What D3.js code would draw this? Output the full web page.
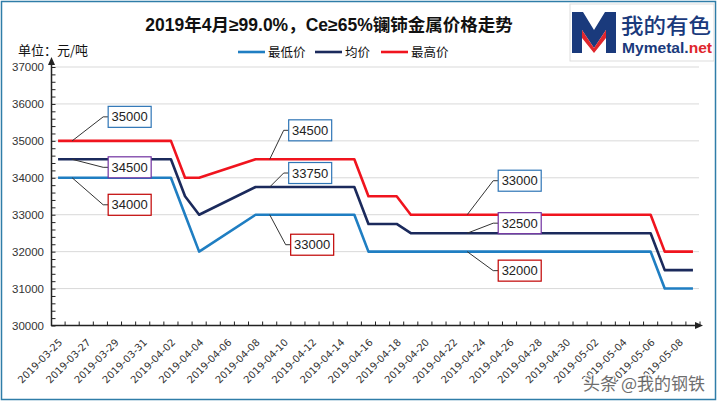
<!DOCTYPE html>
<html><head><meta charset="utf-8">
<script src="https://cdn.jsdelivr.net/npm/d3@7"></script>
<style>
body{margin:0;background:#fff;}
svg{display:block;}
</style></head>
<body>
<svg id="chart" width="718" height="403"></svg>
<script>
const title = "2019年4月≥99.0%，Ce≥65%镧铈金属价格走势";
const unitLabel = "单位：元/吨";
const dates = ["2019-03-25","2019-03-26","2019-03-27","2019-03-28","2019-03-29","2019-03-30","2019-03-31",
"2019-04-01","2019-04-02","2019-04-03","2019-04-04","2019-04-05","2019-04-06","2019-04-07","2019-04-08",
"2019-04-09","2019-04-10","2019-04-11","2019-04-12","2019-04-13","2019-04-14","2019-04-15","2019-04-16",
"2019-04-17","2019-04-18","2019-04-19","2019-04-20","2019-04-21","2019-04-22","2019-04-23","2019-04-24",
"2019-04-25","2019-04-26","2019-04-27","2019-04-28","2019-04-29","2019-04-30","2019-05-01","2019-05-02",
"2019-05-03","2019-05-04","2019-05-05","2019-05-06","2019-05-07","2019-05-08","2019-05-09"];
const seriesNames = ["最低价","均价","最高价"];
const minPrice = [34000,34000,34000,34000,34000,34000,34000,34000,34000,33000,32000,null,null,null,33000,
33000,33000,33000,33000,33000,33000,33000,32000,32000,32000,32000,32000,32000,32000,32000,32000,
32000,32000,32000,32000,32000,32000,32000,32000,32000,32000,32000,32000,31000,31000,31000];
const avgPrice = [34500,34500,34500,34500,34500,34500,34500,34500,34500,33500,33000,null,null,null,33750,
33750,33750,33750,33750,33750,33750,33750,32750,32750,32750,32500,32500,32500,32500,32500,32500,
32500,32500,32500,32500,32500,32500,32500,32500,32500,32500,32500,32500,31500,31500,31500];
const maxPrice = [35000,35000,35000,35000,35000,35000,35000,35000,35000,34000,34000,null,null,null,34500,
34500,34500,34500,34500,34500,34500,34500,33500,33500,33500,33000,33000,33000,33000,33000,33000,
33000,33000,33000,33000,33000,33000,33000,33000,33000,33000,33000,33000,32000,32000,32000];
const yTicks = [30000,31000,32000,33000,34000,35000,36000,37000];
// callouts: series index, date, label
const callouts = [
  {s:2, d:"2019-03-26", text:"35000", c:"blue"},
  {s:1, d:"2019-03-26", text:"34500", c:"purple"},
  {s:0, d:"2019-03-26", text:"34000", c:"red"},
  {s:2, d:"2019-04-09", text:"34500", c:"blue"},
  {s:1, d:"2019-04-09", text:"33750", c:"blue"},
  {s:0, d:"2019-04-09", text:"33000", c:"red"},
  {s:2, d:"2019-04-23", text:"33000", c:"blue"},
  {s:1, d:"2019-04-23", text:"32500", c:"purple"},
  {s:0, d:"2019-04-23", text:"32000", c:"red"}
];
const calloutOffsets = [[31,-24],[31,8],[31,27],[14,-29],[14,-14],[16,30],[26,-34],[26,-10],[26,19]];

const colors = ["#1F7EC2","#1B2A5C","#F0141E"];
const boxColors = {blue:"#2E75B6", purple:"#7030A0", red:"#C00000"};
const allSeries = [minPrice, avgPrice, maxPrice];

const svg = d3.select("#chart");
// outer border
svg.append("rect").attr("x",1.5).attr("y",1.5).attr("width",714).attr("height",398)
  .attr("fill","#fff").attr("stroke","#2F7DA8").attr("stroke-width",1.5);

const x = d3.scaleBand().domain(dates).range([51,700]).paddingInner(0).paddingOuter(0);
const xc = d => x(d) + x.bandwidth()/2;
const y = d3.scaleLinear().domain([30000,37000]).range([325.5,67]);

// gridlines
svg.append("g").selectAll("line").data(yTicks.slice(1)).join("line")
  .attr("x1",51).attr("x2",699).attr("y1",d=>y(d)).attr("y2",d=>y(d))
  .attr("stroke","#D9D9D9").attr("stroke-width",1);

// y axis
const yAxis = d3.axisRight(y).tickValues(d3.range(30000,37001,200)).tickSize(4).tickFormat("");
const gy = svg.append("g").attr("transform","translate(51.5,0)").call(yAxis);
gy.select(".domain").remove();
gy.selectAll(".tick line").attr("stroke","#222");
svg.append("g").selectAll("text").data(yTicks).join("text")
  .attr("x",44).attr("y",d=>y(d)+4).attr("text-anchor","end")
  .attr("font-family","Liberation Sans, Arial, sans-serif").attr("font-size",11.5).attr("fill","#333")
  .text(d=>d);
svg.append("line").attr("x1",51.5).attr("x2",51.5).attr("y1",326).attr("y2",60)
  .attr("stroke","#222").attr("stroke-width",1.5);
svg.append("path").attr("d","M51.5,57 L48,65 L55,65 Z").attr("fill","#222");

// x axis
const xAxis = d3.axisTop(x).tickSize(0).tickFormat("");
const gx = svg.append("g").attr("transform","translate(0,325.5)").call(xAxis);
gx.select(".domain").remove();
svg.append("g").selectAll("line").data(dates).join("line")
  .attr("x1",d=>x(d)+x.bandwidth()).attr("x2",d=>x(d)+x.bandwidth())
  .attr("y1",325.5).attr("y2",321.5).attr("stroke","#222");
svg.append("line").attr("x1",51).attr("x2",698).attr("y1",325.5).attr("y2",325.5)
  .attr("stroke","#222").attr("stroke-width",1.5);
svg.append("path").attr("d","M703,325.5 L695,322 L695,329 Z").attr("fill","#222");

svg.append("g").selectAll("text").data(dates.filter((d,i)=>i%2===0)).join("text")
  .attr("transform",d=>`translate(${xc(d)+5},${343}) rotate(-45)`)
  .attr("text-anchor","end")
  .attr("font-family","DejaVu Sans, Verdana, sans-serif").attr("font-size",10).attr("fill","#333")
  .text(d=>d);

// lines
const line = d3.line().defined(d=>d.v!=null).x(d=>xc(d.d)).y(d=>y(d.v));
allSeries.forEach((vals,si)=>{
  const pts = dates.map((d,i)=>({d, v:vals[i]})).filter(p=>p.v!=null);
  svg.append("path").attr("d",line(pts)).attr("fill","none")
    .attr("stroke",colors[si]).attr("stroke-width",2.6).attr("stroke-linejoin","round");
});

// callouts
callouts.forEach((c,k)=>{
  const vi = dates.indexOf(c.d);
  const px = xc(c.d), py = y(allSeries[c.s][vi]);
  const [dx,dy] = calloutOffsets[k];
  const ex = px+dx, ey = py+dy;
  const bx = ex+5, bw = 43, bh = 21;
  svg.append("polyline").attr("points",`${px},${py} ${ex},${ey} ${bx},${ey}`)
    .attr("fill","none").attr("stroke","#333").attr("stroke-width",1);
  svg.append("rect").attr("x",bx).attr("y",ey-bh/2).attr("width",bw).attr("height",bh)
    .attr("fill","#fff").attr("stroke",boxColors[c.c]).attr("stroke-width",1.2);
  svg.append("text").attr("x",bx+bw/2).attr("y",ey+4.5).attr("text-anchor","middle")
    .attr("font-family","Liberation Sans, Arial, sans-serif").attr("font-size",13).attr("fill","#222")
    .text(c.text);
});

// title
svg.append("text").attr("x",329).attr("y",31).attr("text-anchor","middle")
  .attr("font-family","Liberation Sans, Noto Sans CJK SC, sans-serif").attr("font-weight","bold")
  .attr("font-size",17.5).attr("fill","#111").text(title);
svg.append("text").attr("x",18).attr("y",55)
  .attr("font-family","Noto Sans CJK SC, sans-serif").attr("font-size",13).attr("fill","#111").text(unitLabel);

// legend
const legX = [238,315,381];
seriesNames.forEach((n,i)=>{
  svg.append("line").attr("x1",legX[i]).attr("x2",legX[i]+27).attr("y1",52).attr("y2",52)
    .attr("stroke",colors[i]).attr("stroke-width",2.6);
  svg.append("text").attr("x",legX[i]+30).attr("y",56.5)
    .attr("font-family","Noto Sans CJK SC, sans-serif").attr("font-size",12.5).attr("fill","#111").text(n);
});

// logo
const lg = svg.append("g");
lg.append("rect").attr("x",570).attr("y",4).attr("width",144).attr("height",57).attr("fill","#fff").attr("stroke","#ddd");
lg.append("path").attr("d","M572,12 L583,12 L594,30 L605,12 L616,12 L616,53 L606,53 L606,30 L594,48 L582,30 L582,53 L572,53 Z")
  .attr("fill","#1A3A7C");
lg.append("path").attr("d","M582,30 L594,48 L606,30 L606,38 L594,53 L582,38 Z").attr("fill","#E0262C");
lg.append("text").attr("x",621).attr("y",33).attr("font-family","Noto Sans CJK SC, sans-serif")
  .attr("font-size",21).attr("font-weight","500").attr("fill","#1A3A7C")
  .attr("textLength",90).attr("lengthAdjust","spacingAndGlyphs").text("我的有色");
const lt = lg.append("text").attr("x",622).attr("y",53).attr("font-family","Liberation Sans, Arial, sans-serif")
  .attr("font-size",15).attr("font-weight","bold")
  .attr("textLength",90).attr("lengthAdjust","spacingAndGlyphs");
lt.append("tspan").attr("fill","#1A3A7C").text("Mymetal.");
lt.append("tspan").attr("fill","#E0262C").text("net");

// watermark
svg.append("text").attr("x",705).attr("y",390).attr("text-anchor","end")
  .attr("font-family","Noto Sans CJK SC, sans-serif").attr("font-size",17)
  .attr("fill","#555").attr("stroke","#fff").attr("stroke-width",2.5).attr("paint-order","stroke")
  .attr("opacity",0.85).text("头条 @我的钢铁");
</script>
</body></html>
